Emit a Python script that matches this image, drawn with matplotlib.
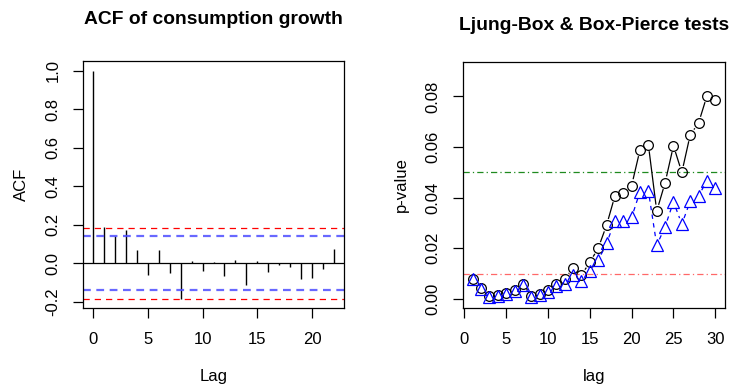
import numpy as np
import matplotlib
matplotlib.use("Agg")
import matplotlib.pyplot as plt
from matplotlib.collections import LineCollection

plt.rcParams['font.family'] = ['Liberation Sans', 'DejaVu Sans']
plt.rcParams['font.size'] = 12

# ACF of consumption growth, lags 0..22
acf_lags = np.arange(0, 23)
acf_vals = [1.0, 0.187, 0.14, 0.173, 0.071, -0.062, 0.071, -0.048, -0.183, 0.012,
            -0.038, 0.007, -0.066, 0.017, -0.112, 0.01, -0.045, -0.01, -0.017,
            -0.081, -0.076, -0.029, 0.074]
ci_red = 0.184
ci_blue = 0.14

# p-values of the portmanteau tests, lags 1..30
test_lags = np.arange(1, 31)
box_pierce = [0.0080, 0.0043, 0.0010, 0.0014, 0.0024, 0.0034, 0.0060, 0.0013, 0.0020, 0.0034,
              0.0059, 0.0079, 0.0123, 0.0094, 0.0145, 0.0200, 0.0291, 0.0407, 0.0420, 0.0448,
              0.0589, 0.0609, 0.0347, 0.0459, 0.0605, 0.0500, 0.0648, 0.0695, 0.0802, 0.0785]
ljung_box = [0.0080, 0.0041, 0.0008, 0.0013, 0.0021, 0.0031, 0.0055, 0.0009, 0.0014, 0.0029,
             0.0050, 0.0059, 0.0093, 0.0069, 0.0110, 0.0152, 0.0219, 0.0308, 0.0308, 0.0322,
             0.0424, 0.0427, 0.0212, 0.0285, 0.0384, 0.0295, 0.0386, 0.0407, 0.0467, 0.0439]
level_5 = 0.05
level_1 = 0.01

W, H = 730, 385
fig = plt.figure(figsize=(W / 100, H / 100), dpi=100)
ax1 = fig.add_axes([83 / W, 1 - 308 / H, 261 / W, 247 / H])
ax2 = fig.add_axes([463 / W, 1 - 308 / H, 262 / W, 246 / H])


def r_style(ax, ypad):
    for s in ax.spines.values():
        s.set_linewidth(0.9)
    ax.tick_params(direction='out', length=7.2, width=0.9)
    ax.tick_params(axis='x', pad=10)
    ax.tick_params(axis='y', pad=ypad, labelrotation=90)
    for lab in ax.get_yticklabels():
        lab.set_va('center')


# ---- left: ACF ----
ax1.vlines(acf_lags, 0, acf_vals, color='black', lw=1.0)
ax1.axhline(0, color='black', lw=0.9)
ax1.axhline(ci_blue, color=(0.3, 0.3, 1, 0.85), lw=1.6, ls=(0, (3.5, 2.5)))
ax1.axhline(-ci_blue, color=(0.3, 0.3, 1, 0.85), lw=1.6, ls=(0, (3.5, 2.5)))
ax1.axhline(ci_red, color='red', lw=0.9, ls=(0, (5, 4)))
ax1.axhline(-ci_red - 0.003, color='red', lw=0.9, ls=(0, (5, 4)))
ax1.set_xlim(-0.88, 22.88)
ax1.set_ylim(-0.232, 1.05)
ax1.set_xticks([0, 5, 10, 15, 20])
ax1.set_yticks([-0.2, 0.0, 0.2, 0.4, 0.6, 0.8, 1.0])
ax1.set_yticklabels(['-0.2', '0.0', '0.2', '0.4', '0.6', '0.8', '1.0'])
r_style(ax1, 9)
ax1.set_xlabel('Lag', labelpad=16)
ax1.set_ylabel('ACF', labelpad=12)
ax1.set_title('ACF of consumption growth', fontsize=13.9, fontweight='bold', pad=27)

# ---- right: Ljung-Box & Box-Pierce ----
ax2.set_xlim(-0.16, 31.16)
ax2.set_ylim(-0.0036, 0.0936)
ax2.set_xticks([0, 5, 10, 15, 20, 25, 30])
ax2.set_yticks([0.0, 0.02, 0.04, 0.06, 0.08])
ax2.set_yticklabels(['0.00', '0.02', '0.04', '0.06', '0.08'])
ax2.axhline(level_5, color='#1f8a1f', lw=0.9, ls=(0, (5, 2.5, 1, 2.5)))
ax2.axhline(level_1, color=(1, 0.3, 0.3, 0.85), lw=0.9, ls=(0, (5, 2.5, 1, 2.5)))


def type_b(ax, x, y, color, ls, gap=6.5):
    # lines with gaps around the points, like R type = "b"
    pts = ax.transData.transform(np.column_stack([x, y]))
    segs = []
    for p, q in zip(pts[:-1], pts[1:]):
        d = q - p
        n = np.hypot(*d)
        if n <= 2 * gap:
            continue
        u = d / n
        a = ax.transData.inverted().transform(p + u * gap)
        b = ax.transData.inverted().transform(q - u * gap)
        segs.append([a, b])
    ax.add_collection(LineCollection(segs, colors=color, linewidths=0.9, linestyles=ls))


type_b(ax2, test_lags, box_pierce, 'black', 'solid')
ax2.plot(test_lags, box_pierce, ls='none', marker='o', ms=7, mfc='none', mec='black', mew=0.9)
type_b(ax2, test_lags, ljung_box, 'blue', (0, (3.5, 3.5)))
ax2.plot(test_lags, ljung_box, ls='none', marker='^', ms=8, mfc='none', mec='blue', mew=0.9)

r_style(ax2, 9)
ax2.set_xlabel('lag', labelpad=16)
ax2.set_ylabel('p-value', labelpad=12)
ax2.set_title('Ljung-Box & Box-Pierce tests', fontsize=13.9, fontweight='bold', pad=23)

fig.savefig('out.png', dpi=100)
